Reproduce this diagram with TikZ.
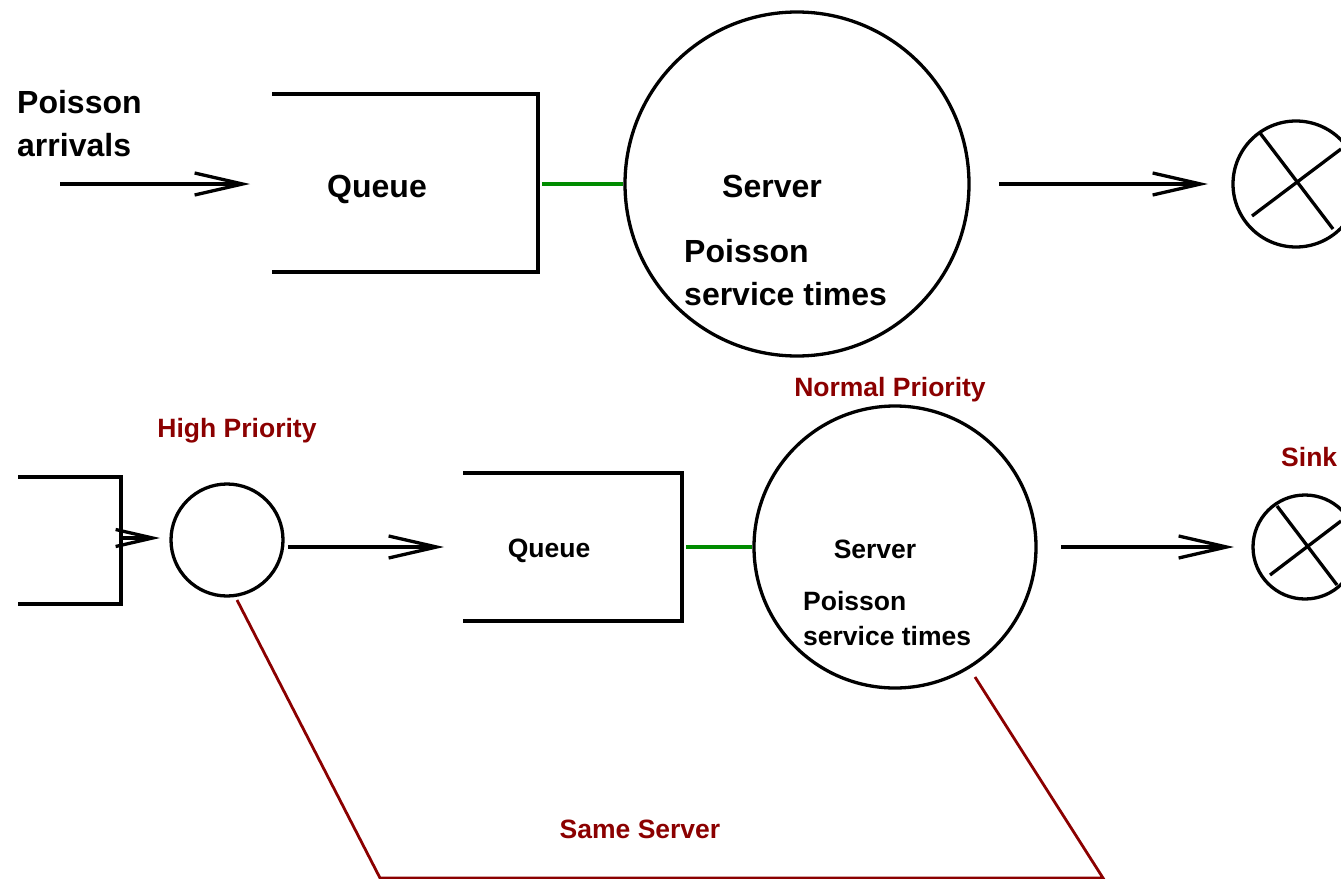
\documentclass[tikz,border=0pt]{standalone}
\usepackage{fontspec}
\setmainfont{Liberation Sans}
\usetikzlibrary{arrows.meta}
\definecolor{darkred}{RGB}{139,0,0}
\definecolor{lgreen}{RGB}{0,140,0}
\begin{document}
\begin{tikzpicture}[x=1pt,y=-1pt,
  blk/.style={line width=3.3pt,black},
  arr/.style={line width=3.3pt,-{Straight Barb[length=48pt,width=22pt,line width=3.3pt]}},
  sarr/.style={line width=3.3pt,-{Straight Barb[length=37pt,width=17pt,line width=3.3pt]}},
  circ/.style={circle,draw,line width=3.3pt,inner sep=0pt},
  big/.style={font=\bfseries\fontsize{32}{43}\selectfont,inner sep=0pt},
  small/.style={font=\bfseries\fontsize{26.5}{35}\selectfont,inner sep=0pt},
  redtxt/.style={small,text=darkred},
  link/.style={line width=3.3pt,lgreen},
  redline/.style={line width=2.8pt,darkred}]
\useasboundingbox (0,0) rectangle (1341,878);
% ---------- top row ----------
\node[big,anchor=west,align=left] (arrlbl) at (17,124) {Poisson\\arrivals};
\coordinate (a1s) at (60,184);
\coordinate (a1e) at (250,184);
\draw[arr] (a1s) -- (a1e);
\draw[blk] (272,94) -- (538,94) -- (538,272) -- (272,272);
\node[big] (q1) at (377,189) {Queue};
\node[circ,minimum size=344pt] (s1) at (797,184) {};
\coordinate (g1s) at (542,184);
\draw[link] (g1s) -- (s1.west);
\node[big] (s1lbl) at (772,186) {Server};
\node[big,anchor=west,align=left] (s1pt) at (684,273) {Poisson\\service times};
\coordinate (a2s) at (999,184);
\coordinate (a2e) at (1208,184);
\draw[arr] (a2s) -- (a2e);
\node[circ,minimum size=126pt] (k1) at (1296,184) {};
\draw[blk] (1260,133) -- (1333,229);
\draw[blk] (1252,216) -- (1341,149);
% ---------- bottom row ----------
\draw[blk] (18,477) -- (121,477) -- (121,604) -- (18,604);
\coordinate (b0s) at (121,538);
\coordinate (b0e) at (160,538);
\draw[sarr] (b0s) -- (b0e);
\node[circ,minimum size=112pt] (hp) at (227,540) {};
\node[redtxt] (hplbl) at (237,431) {High Priority};
\coordinate (b1s) at (288,547);
\coordinate (b1e) at (444,547);
\draw[arr] (b1s) -- (b1e);
\draw[blk] (463,473) -- (682,473) -- (682,621) -- (463,621);
\node[small] (q2) at (549,551) {Queue};
\node[circ,minimum size=282pt] (s2) at (895,547) {};
\coordinate (g2s) at (686,547);
\draw[link] (g2s) -- (s2.west);
\node[small] (s2lbl) at (875,549) {Server};
\node[small,anchor=west,align=left] (s2pt) at (803,619) {Poisson\\service times};
\node[redtxt] (nplbl) at (890,390) {Normal Priority};
\coordinate (b2s) at (1061,547);
\coordinate (b2e) at (1234,547);
\draw[arr] (b2s) -- (b2e);
\node[circ,minimum size=104pt] (k2) at (1305,547) {};
\draw[blk] (1277,506) -- (1337,585);
\draw[blk] (1270,575) -- (1341,521);
\node[redtxt,anchor=west] (sinklbl) at (1281,457) {Sink};
% ---------- same server link ----------
\coordinate (r1) at (237,600);
\coordinate (r2) at (380,878);
\coordinate (r3) at (1103,878);
\coordinate (r4) at (975,677);
\draw[redline] (r1) -- (r2) -- (r3) -- (r4);
\node[redtxt] (sslbl) at (640,829) {Same Server};
\end{tikzpicture}
\end{document}
